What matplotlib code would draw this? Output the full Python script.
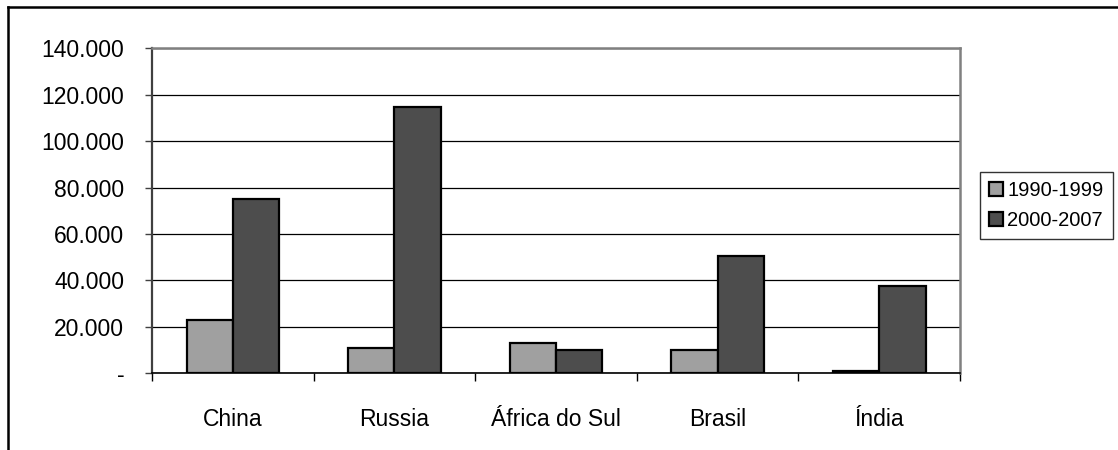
import numpy as np
import matplotlib.pyplot as plt
from matplotlib.lines import Line2D
from matplotlib.ticker import FuncFormatter

plt.rcParams['font.family'] = ['Liberation Sans', 'DejaVu Sans']

paises = ['China', 'Russia', 'África do Sul', 'Brasil', 'Índia']
periodo_90 = [23000, 11000, 13200, 9900, 1200]
periodo_00 = [75000, 114600, 9900, 50700, 37500]
rotulos = ['1990-1999', '2000-2007']

fig = plt.figure(figsize=(11.18, 4.5), dpi=100)
ax = fig.add_axes([0.136, 0.1704, 0.7227, 0.7223])

x = np.arange(len(paises))
w = 0.2865
ax.bar(x - w / 2, periodo_90, w, color='#a0a0a0', edgecolor='black', linewidth=1.6,
       label=rotulos[0], zorder=3)
ax.bar(x + w / 2, periodo_00, w, color='#4d4d4d', edgecolor='black', linewidth=1.6,
       label=rotulos[1], zorder=3)

ax.set_xlim(-0.5, len(paises) - 0.5)
ax.set_ylim(0, 140000)
ax.set_yticks(np.arange(0, 140001, 20000))


def fmt(v, pos):
    if v == 0:
        return '-'
    return '{:,.0f}'.format(v).replace(',', '.')


ax.yaxis.set_major_formatter(FuncFormatter(fmt))
ax.yaxis.grid(True, color='black', linewidth=0.9, zorder=0)
ax.tick_params(axis='y', length=5, width=1, pad=15, labelsize=16.5, color='#404040')

ax.set_xticks(x)
ax.set_xticklabels(paises)
ax.set_xticks(np.arange(-0.5, len(paises)), minor=True)
ax.tick_params(axis='x', which='major', length=0, pad=25, labelsize=16.5)
ax.tick_params(axis='x', which='minor', length=6, width=1, color='black')

ax.spines['left'].set_color('#404040')
ax.spines['left'].set_linewidth(1.6)
ax.spines['bottom'].set_color('black')
ax.spines['bottom'].set_linewidth(1.2)
for s in ['top', 'right']:
    ax.spines[s].set_color('#808080')
    ax.spines[s].set_linewidth(1.8)

leg = fig.legend(loc='upper left', bbox_to_anchor=(980 / 1118, 1 - 172 / 450),
                 frameon=True, fancybox=False, edgecolor='black', fontsize=14.5,
                 handlelength=0.7, handleheight=0.7, handletextpad=0.2,
                 borderpad=0.45, labelspacing=0.55, borderaxespad=0)
leg.get_frame().set_linewidth(1.0)

# moldura externa
fig.add_artist(Line2D([8 / 1118, 1], [1 - 7 / 450, 1 - 7 / 450], color='black',
                      linewidth=1.8, transform=fig.transFigure))
fig.add_artist(Line2D([8 / 1118, 8 / 1118], [0, 1 - 7 / 450], color='black',
                      linewidth=1.8, transform=fig.transFigure))

fig.savefig('out.png', dpi=100)
